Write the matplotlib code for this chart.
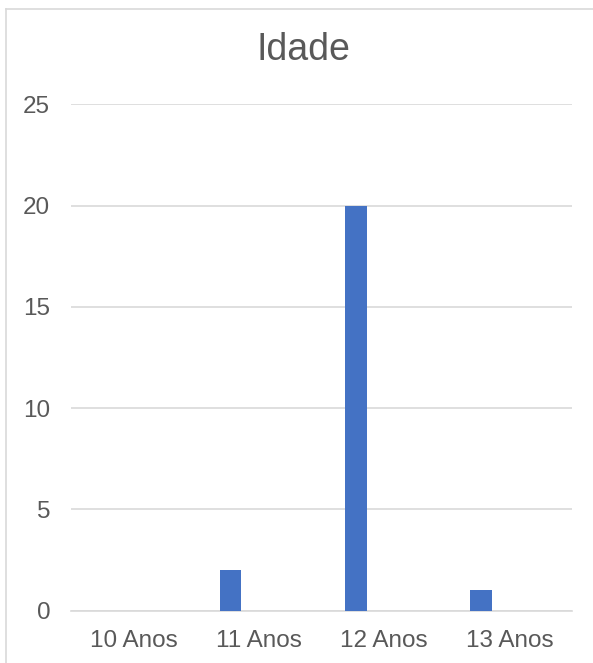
import matplotlib.pyplot as plt
from matplotlib.lines import Line2D
import numpy as np

plt.rcParams['font.family'] = ['Liberation Sans', 'DejaVu Sans']

# data
categorias = ['10 Anos', '11 Anos', '12 Anos', '13 Anos']
alunos = [0, 2, 20, 1]
yticks = [0, 5, 10, 15, 20, 25]

W, H = 593, 663
fig = plt.figure(figsize=(W / 100, H / 100), dpi=100)
ax = fig.add_axes([71 / W, (H - 610.7) / H, (572 - 71) / W, (610.7 - 104.4) / H])

cinza = '#595959'
grade = '#D9D9D9'

x = np.arange(len(categorias))
ax.bar(x - 0.225, alunos, width=0.172, color='#4472C4', zorder=3)

ax.set_xlim(-0.5, len(categorias) - 0.5)
ax.set_ylim(0, 25)
ax.set_yticks(yticks)
ax.set_xticks(x)
ax.set_xticklabels(categorias)
ax.yaxis.grid(True, color=grade, lw=1.2, zorder=0)
ax.tick_params(axis='both', length=0, labelsize=17.5, colors=cinza)
ax.tick_params(axis='y', pad=15)
ax.tick_params(axis='x', pad=14)
for s in ['left', 'right', 'top']:
    ax.spines[s].set_visible(False)
ax.spines['bottom'].set_color(grade)
ax.spines['bottom'].set_linewidth(1.2)

fig.text(303.5 / W, 1 - 50.5 / H, 'Idade', ha='center', va='center',
         fontsize=27, color=cinza)

# moldura do gráfico (so esquerda e topo aparecem)
x0, y0 = 5.5 / W, 1 - 8.5 / H
fig.add_artist(Line2D([x0, x0], [0, y0], color=grade, lw=1.2))
fig.add_artist(Line2D([x0, 1], [y0, y0], color=grade, lw=1.2))

fig.savefig('out.png', dpi=100)
